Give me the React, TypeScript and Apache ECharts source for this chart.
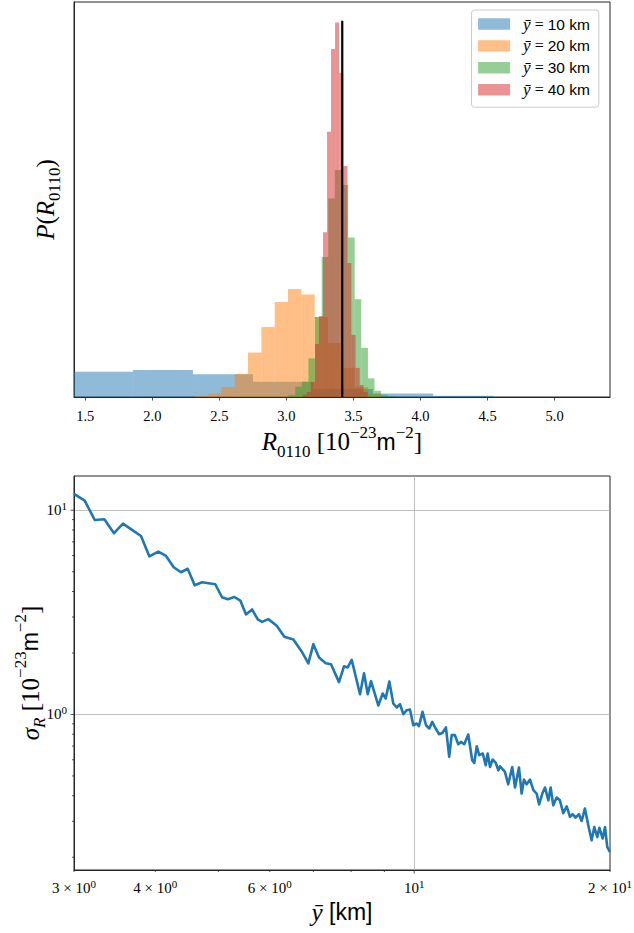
import React, { useEffect, useRef } from 'react';
import * as echarts from 'echarts';

// ---------- top panel: histograms (bin edges along R, heights in density units) ----------
const histNames = ['ybar10', 'ybar20', 'ybar30', 'ybar40'];
const histLabelValues = ['10', '20', '30', '40'];
const histColors = ['rgba(31,119,180,0.5)', 'rgba(255,127,14,0.5)', 'rgba(44,160,44,0.5)', 'rgba(214,39,40,0.5)'];

const blueEdges = [1.407, 1.855, 2.303, 2.751, 3.199, 3.646, 4.094, 4.542];
const blueHeights = [0.84, 0.9, 0.76, 0.51, 0.27, 0.12, 0.04];

const orangeEdges = [2.316, 2.415, 2.515, 2.614, 2.713, 2.813, 2.913, 3.012, 3.112, 3.211, 3.31, 3.41, 3.51, 3.609, 3.709];
const orangeHeights = [0.03, 0.12, 0.33, 0.77, 1.48, 2.33, 3.17, 3.6, 3.42, 2.67, 1.8, 0.97, 0.33, 0.1];

const greenEdges = [3.016, 3.066, 3.115, 3.164, 3.213, 3.263, 3.312, 3.361, 3.41, 3.46, 3.509, 3.558, 3.608, 3.657, 3.706, 3.755, 3.805];
const greenHeights = [0.07, 0.34, 0.51, 1.29, 2.67, 4.67, 6.62, 7.57, 7.07, 5.32, 3.26, 1.64, 0.62, 0.21, 0.07, 0.03];

const redEdges = [3.122, 3.152, 3.182, 3.213, 3.243, 3.273, 3.303, 3.333, 3.363, 3.394, 3.424, 3.455, 3.484, 3.515, 3.546, 3.575, 3.606];
const redHeights = [0.07, 0.17, 0.5, 1.77, 2.7, 5.49, 8.84, 11.6, 12.48, 10.81, 7.7, 4.47, 2.07, 0.97, 0.4, 0.17];

const refLineX = 3.4164;
const refLineTop = 12.54;

const topXMin = 1.416;
const topXMax = 5.413;
const topYMax = 13.167;
const topXTicks = [1.5, 2.0, 2.5, 3.0, 3.5, 4.0, 4.5, 5.0];

// ---------- bottom panel: sigma_R vs ybar ----------
const sigmaX = [
  3.0, 3.116, 3.228, 3.34, 3.456, 3.568, 3.684, 3.803, 3.916, 4.043, 4.155, 4.27, 4.381, 4.486, 4.599, 4.72,
  4.833, 4.947, 5.066, 5.169, 5.291, 5.405, 5.515, 5.634, 5.749, 5.837, 5.968, 6.149, 6.316, 6.521, 6.731, 6.876,
  6.999, 7.141, 7.312, 7.451, 7.664, 7.801, 7.904, 8.017, 8.256, 8.374, 8.484, 8.584, 8.808, 8.946, 9.042, 9.158,
  9.288, 9.401, 9.511, 9.623, 9.739, 9.853, 9.969, 10.09, 10.17, 10.3, 10.43, 10.55, 10.66, 10.79, 10.92, 11.05,
  11.19, 11.32, 11.42, 11.55, 11.69, 11.8, 11.94, 12.11, 12.28, 12.37, 12.48, 12.59, 12.75, 12.88, 12.97, 13.08,
  13.2, 13.35, 13.47, 13.55, 13.79, 13.95, 14.15, 14.29, 14.49, 14.63, 14.75, 14.89, 15.07, 15.25, 15.43, 15.56,
  15.74, 15.89, 16.08, 16.21, 16.36, 16.56, 16.75, 16.95, 17.16, 17.36, 17.52, 17.71, 17.92, 18.09, 18.3, 18.52,
  18.74, 18.92, 19.12, 19.26, 19.49, 19.65, 19.81, 20.0,
];
const sigmaY = [
  12.02, 11.14, 8.96, 9.03, 7.72, 8.6, 8.01, 7.48, 5.95, 6.27, 5.97, 5.26, 4.97, 5.17, 4.29, 4.44,
  4.39, 4.34, 3.75, 3.67, 3.76, 3.61, 3.09, 3.27, 2.92, 2.84, 2.93, 2.72, 2.4, 2.33, 2.01, 1.78,
  2.21, 1.9, 1.78, 1.76, 1.44, 1.72, 1.7, 1.85, 1.257, 1.59, 1.257, 1.456, 1.107, 1.267, 1.198, 1.451,
  1.132, 1.082, 1.123, 1.003, 1.05, 1.058, 0.886, 0.903, 0.876, 1.03, 0.886, 0.854, 0.92, 0.854, 0.801, 0.812,
  0.864, 0.62, 0.792, 0.792, 0.715, 0.734, 0.715, 0.798, 0.597, 0.579, 0.699, 0.632, 0.644, 0.564, 0.644, 0.553,
  0.602, 0.579, 0.533, 0.558, 0.523, 0.455, 0.553, 0.439, 0.55, 0.41, 0.48, 0.455, 0.48, 0.426, 0.41, 0.363,
  0.41, 0.439, 0.38, 0.439, 0.359, 0.392, 0.38, 0.329, 0.355, 0.315, 0.325, 0.313, 0.325, 0.301, 0.346, 0.287,
  0.242, 0.281, 0.251, 0.279, 0.247, 0.281, 0.224, 0.212,
];

const botXMin = 3;
const botXMax = 20;
const botYMin = 0.1732;
const botYMax = 14.71;

const botXTicks = [3, 4, 5, 6, 7, 8, 9, 10, 20];
const botXTickMajor = [0, 0, 0, 0, 0, 0, 0, 1, 0];
const botXTickLabels = ['{n|3 × 10}{s|0}', '{n|4 × 10}{s|0}', '', '{n|6 × 10}{s|0}', '', '', '', '{n|10}{s|1}', '{n|2 × 10}{s|1}'];
const botYTicks = [0.2, 0.3, 0.4, 0.5, 0.6, 0.7, 0.8, 0.9, 1, 2, 3, 4, 5, 6, 7, 8, 9, 10];
const botYTickMajor = [0, 0, 0, 0, 0, 0, 0, 0, 1, 0, 0, 0, 0, 0, 0, 0, 0, 1];
const botYTickLabels = ['', '', '', '', '', '', '', '', '{n|10}{s|0}', '', '', '', '', '', '', '', '', '{n|10}{s|1}'];

const SERIF = 'Liberation Serif';
const SANS = 'Liberation Sans';
const SPINE = '#262626';

const tickRich = {
  n: { fontFamily: SERIF, fontSize: 15, lineHeight: 19, color: '#000' },
  s: { fontFamily: SERIF, fontSize: 11, lineHeight: 10, verticalAlign: 'top', color: '#000' },
};

const titleRich = {
  it: { fontFamily: SERIF, fontStyle: 'italic', fontSize: 25, lineHeight: 36, color: '#000' },
  rm: { fontFamily: SERIF, fontSize: 25, lineHeight: 36, color: '#000' },
  sf: { fontFamily: SANS, fontSize: 23, lineHeight: 36, color: '#000' },
  sup: { fontFamily: SERIF, fontSize: 17, lineHeight: 14, verticalAlign: 'top', color: '#000' },
  sub: { fontFamily: SERIF, fontSize: 17, lineHeight: 24, verticalAlign: 'bottom', color: '#000' },
  subi: { fontFamily: SERIF, fontStyle: 'italic', fontSize: 17, lineHeight: 24, verticalAlign: 'bottom', color: '#000' },
};

function binsOf(edges: number[], heights: number[]) {
  return heights.map((h, i) => [edges[i], edges[i + 1], h]);
}

function histSeries(idx: number, edges: number[], heights: number[]) {
  const color = histColors[idx];
  return {
    type: 'custom',
    name: histNames[idx],
    xAxisIndex: 0,
    yAxisIndex: 0,
    itemStyle: { color },
    encode: { x: [0, 1], y: 2 },
    data: binsOf(edges, heights),
    renderItem: (params: any, api: any) => {
      const p0 = api.coord([api.value(0), api.value(2)]);
      const p1 = api.coord([api.value(1), 0]);
      const cs = params.coordSys;
      const shape = echarts.graphic.clipRectByRect(
        { x: p0[0], y: p0[1], width: p1[0] - p0[0], height: p1[1] - p0[1] },
        { x: cs.x, y: cs.y, width: cs.width, height: cs.height }
      );
      if (!shape) return null;
      return { type: 'rect', shape, style: { fill: color } };
    },
  };
}

export default function App() {
  const ref = useRef<HTMLDivElement>(null);
  useEffect(() => {
    document.body.style.margin = '0';
    const chart = echarts.init(ref.current!, null, { renderer: 'svg' });

    const tickData: number[][] = [];
    const tickLabels: string[] = [];
    botXTicks.forEach((v, i) => { tickData.push([v, 0, botXTickMajor[i]]); tickLabels.push(botXTickLabels[i]); });
    botYTicks.forEach((v, i) => { tickData.push([v, 1, botYTickMajor[i]]); tickLabels.push(botYTickLabels[i]); });

    const option: any = {
      animation: false,
      grid: [
        { left: 74, top: 2, width: 536, height: 395, show: true, borderColor: SPINE, borderWidth: 1, backgroundColor: 'transparent' },
        { left: 74, top: 476, width: 536, height: 394, show: true, borderColor: SPINE, borderWidth: 1, backgroundColor: 'transparent' },
      ],
      legend: {
        data: histNames,
        orient: 'vertical',
        left: 471.5,
        top: 10,
        icon: 'rect',
        itemWidth: 32,
        itemHeight: 11.4,
        itemGap: 4.9,
        padding: [5.5, 9, 9, 6.6],
        backgroundColor: 'rgba(255,255,255,0.8)',
        borderColor: '#cccccc',
        borderWidth: 1,
        borderRadius: 3,
        selectedMode: false,
        formatter: (name: string) => {
          const i = histNames.indexOf(name);
          return `{y|y\u0304}{eq| = }{t|${histLabelValues[i]} km}`;
        },
        textStyle: {
          rich: {
            y: { fontFamily: SERIF, fontStyle: 'italic', fontSize: 17, lineHeight: 15, padding: [0, 0, 0, 8], color: '#000' },
            eq: { fontFamily: SERIF, fontSize: 16, lineHeight: 15, color: '#000' },
            t: { fontFamily: SANS, fontSize: 15.5, lineHeight: 15, color: '#000' },
          },
        },
      },
      xAxis: [
        {
          type: 'value', gridIndex: 0, min: topXMin, max: topXMax,
          axisLine: { show: true, onZero: false, lineStyle: { color: SPINE, width: 1 } },
          axisTick: { show: true, length: 3.5, customValues: topXTicks, lineStyle: { color: SPINE, width: 0.8 } },
          axisLabel: {
            customValues: topXTicks, margin: 11, fontFamily: SERIF, fontSize: 14.5, color: '#000',
            formatter: (v: number) => v.toFixed(1),
          },
          splitLine: { show: false },
          name: '{it|R}{sub|0110}{rm| [10}{sup|−23}{sf|m}{sup|−2}{rm|]}',
          nameLocation: 'middle', nameGap: 26,
          nameTextStyle: { rich: titleRich },
        },
        {
          type: 'log', gridIndex: 1, min: botXMin, max: botXMax, logBase: 10,
          axisLine: { show: true, onZero: false, lineStyle: { color: SPINE, width: 1 } },
          axisTick: { show: false }, axisLabel: { show: false },
          splitLine: { show: true, showMinLine: false, showMaxLine: false, lineStyle: { color: '#b0b0b0', width: 0.8 } },
          name: '{it|y\u0304}{sf| [km]}',
          nameLocation: 'middle', nameGap: 24,
          nameTextStyle: { rich: titleRich },
        },
      ],
      yAxis: [
        {
          type: 'value', gridIndex: 0, min: 0, max: topYMax,
          axisLine: { show: true, onZero: false, lineStyle: { color: SPINE, width: 1 } },
          axisTick: { show: false }, axisLabel: { show: false }, splitLine: { show: false },
          name: '{it|P}{rm|(}{it|R}{sub|0110}{rm|)}',
          nameLocation: 'middle', nameGap: 11,
          nameTextStyle: { rich: titleRich },
        },
        {
          type: 'log', gridIndex: 1, min: botYMin, max: botYMax, logBase: 10,
          axisLine: { show: true, onZero: false, lineStyle: { color: SPINE, width: 1 } },
          axisTick: { show: false }, axisLabel: { show: false },
          splitLine: { show: true, showMinLine: false, showMaxLine: false, lineStyle: { color: '#b0b0b0', width: 0.8 } },
          name: '{it|σ}{subi|R}{rm| [10}{sup|−23}{sf|m}{sup|−2}{rm|]}',
          nameLocation: 'middle', nameGap: 26,
          nameTextStyle: { rich: titleRich },
        },
      ],
      series: [
        histSeries(0, blueEdges, blueHeights),
        histSeries(1, orangeEdges, orangeHeights),
        histSeries(2, greenEdges, greenHeights),
        histSeries(3, redEdges, redHeights),
        {
          type: 'line', name: 'ref', xAxisIndex: 0, yAxisIndex: 0, symbol: 'none', z: 5,
          data: [[refLineX, 0], [refLineX, refLineTop]],
          lineStyle: { color: '#000', width: 2.2 },
        },
        {
          type: 'line', name: 'sigma', xAxisIndex: 1, yAxisIndex: 1, symbol: 'none',
          data: sigmaX.map((x, i) => [x, sigmaY[i]]),
          lineStyle: { color: '#1f77b4', width: 2.6, join: 'round' },
        },
        {
          type: 'custom', name: 'ticks', xAxisIndex: 1, yAxisIndex: 1, silent: true, clip: false,
          data: tickData,
          renderItem: (params: any, api: any) => {
            const v = api.value(0);
            const isY = api.value(1) === 1;
            const len = api.value(2) === 1 ? 3.5 : 2;
            const label = tickLabels[params.dataIndex];
            const children: any[] = [];
            if (!isY) {
              const p = api.coord([v, botYMin]);
              children.push({ type: 'line', shape: { x1: p[0], y1: p[1], x2: p[0], y2: p[1] + len }, style: { stroke: SPINE, lineWidth: 0.8 } });
              if (label) children.push({ type: 'text', style: { text: label, x: p[0], y: p[1] + 17.5, align: 'center', verticalAlign: 'middle', rich: tickRich } });
            } else {
              const p = api.coord([botXMin, v]);
              children.push({ type: 'line', shape: { x1: p[0] - len, y1: p[1], x2: p[0], y2: p[1] }, style: { stroke: SPINE, lineWidth: 0.8 } });
              if (label) children.push({ type: 'text', style: { text: label, x: p[0] - 7, y: p[1], align: 'right', verticalAlign: 'middle', rich: tickRich } });
            }
            return { type: 'group', children };
          },
        },
      ],
    };
    chart.setOption(option);
    return () => chart.dispose();
  }, []);
  return <div ref={ref} style={{ position: 'absolute', left: 0, top: 0, width: 634, height: 933 }} />;
}
